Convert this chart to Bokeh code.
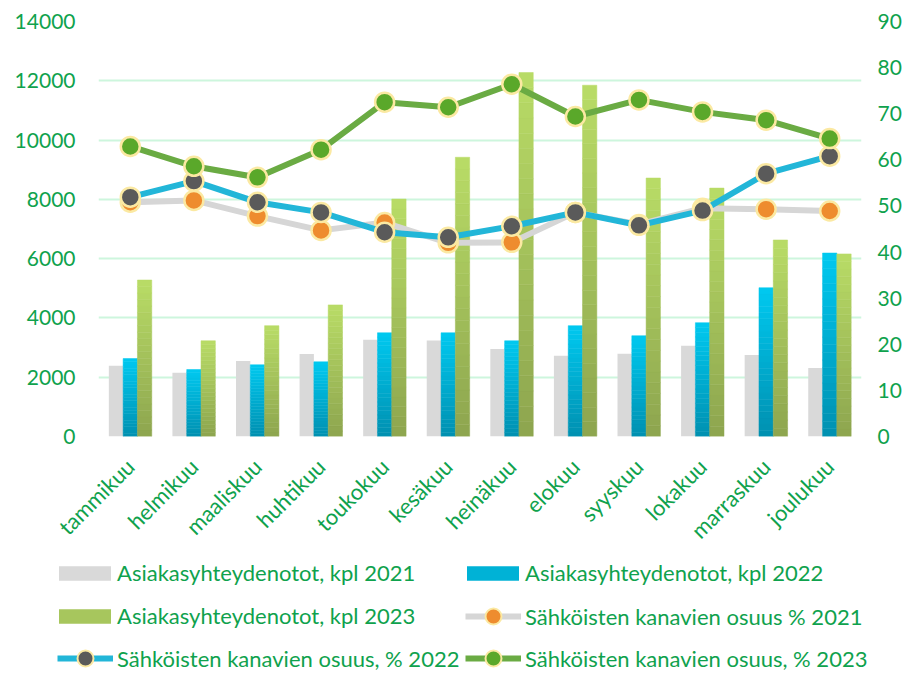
import numpy as np
from bokeh.plotting import figure
from bokeh.layouts import column
from bokeh.models import (Range1d, LinearAxis, FixedTicker, FactorRange, Legend,
                          LegendItem, ColumnDataSource)
from bokeh.transform import dodge
from bokeh.embed import file_html
from bokeh.resources import INLINE

# ---------------- data ----------------
months = ["tammikuu", "helmikuu", "maaliskuu", "huhtikuu", "toukokuu", "kesäkuu",
          "heinäkuu", "elokuu", "syyskuu", "lokakuu", "marraskuu", "joulukuu"]
contacts_2021 = [2390, 2150, 2550, 2780, 3260, 3240, 2950, 2720, 2790, 3060, 2750, 2310]
contacts_2022 = [2630, 2260, 2420, 2520, 3500, 3500, 3230, 3740, 3400, 3840, 5020, 6190]
contacts_2023 = [5280, 3230, 3740, 4440, 8010, 9420, 12280, 11850, 8720, 8380, 6630, 6160]
share_2021 = [50.8, 51.2, 47.8, 44.7, 46.4, 42.0, 42.1, 48.6, 46.0, 49.5, 49.3, 48.9]
share_2022 = [51.9, 55.4, 50.8, 48.6, 44.3, 43.2, 45.6, 48.6, 45.8, 49.0, 57.0, 60.8]
share_2023 = [62.9, 58.6, 56.2, 62.2, 72.5, 71.4, 76.4, 69.4, 73.0, 70.4, 68.6, 64.6]
left_ticks = [0, 2000, 4000, 6000, 8000, 10000, 12000, 14000]
right_ticks = [0, 10, 20, 30, 40, 50, 60, 70, 80, 90]
labels = ["Asiakasyhteydenotot, kpl 2021", "Asiakasyhteydenotot, kpl 2022",
          "Asiakasyhteydenotot, kpl 2023", "Sähköisten kanavien osuus % 2021",
          "Sähköisten kanavien osuus, % 2022", "Sähköisten kanavien osuus, % 2023"]

# ---------------- style ----------------
GREEN_TXT = "#0FA24D"
FONT = "Lato"
GRID = "#CDF6DD"
GRAY_BAR = "#D9D9D9"
BLUE_BOT, BLUE_TOP = "#0090B0", "#00C9F0"
GRN_BOT, GRN_TOP = "#8DA54F", "#B9DC66"
L21, M21 = "#D6D6D6", "#EE8C2E"
L22, M22 = "#22B6D8", "#5A5A5A"
L23, M23 = "#6AAB43", "#5AA82A"
MK_LINE = "#FBE9A2"

W = 904
p = figure(x_range=FactorRange(*months), y_range=Range1d(0, 14000),
           width=W, height=556, output_backend="svg", toolbar_location=None,
           min_border_left=98, min_border_right=36, min_border_top=21,
           min_border_bottom=119)
p.extra_y_ranges = {"pct": Range1d(0, 90)}
p.outline_line_color = None
p.background_fill_color = "white"
p.border_fill_color = "white"

# axes
p.yaxis.ticker = FixedTicker(ticks=left_ticks)
p.xaxis.major_label_orientation = np.pi / 4
for ax in (p.xaxis[0], p.yaxis[0]):
    ax.axis_line_color = None
    ax.major_tick_line_color = None
    ax.minor_tick_line_color = None
    ax.major_label_text_color = GREEN_TXT
    ax.major_label_text_font = FONT
p.yaxis.major_label_text_font_size = "21px"
p.yaxis.major_label_standoff = 17
p.xaxis.major_label_text_font_size = "22px"
p.xaxis.major_label_standoff = 20

rax = LinearAxis(y_range_name="pct", ticker=FixedTicker(ticks=right_ticks),
                 axis_line_color=None, major_tick_line_color=None,
                 minor_tick_line_color=None, major_label_text_color=GREEN_TXT,
                 major_label_text_font=FONT, major_label_text_font_size="21px",
                 major_label_standoff=10)
p.add_layout(rax, "right")

p.xgrid.grid_line_color = None
p.ygrid.grid_line_color = GRID
p.ygrid.grid_line_width = 2
p.ygrid.ticker = FixedTicker(ticks=left_ticks)


def hex2rgb(h):
    h = h.lstrip("#")
    return np.array([int(h[i:i + 2], 16) for i in (0, 2, 4)], float)


def mix(c0, c1, t):
    c = hex2rgb(c0) * (1 - t) + hex2rgb(c1) * t
    return "#%02x%02x%02x" % tuple(int(round(v)) for v in c)


BW = 0.225


def gradient_bars(values, offset, c_bottom, c_top, n=24):
    vals = np.array(values, float)
    for k in range(n):
        t = (k + 0.5) / n
        col = mix(c_bottom, c_top, t)
        s = ColumnDataSource(dict(x=months, bottom=vals * k / n, top=vals * (k + 1) / n))
        p.vbar(x=dodge("x", offset, range=p.x_range), bottom="bottom", top="top",
               width=BW, source=s, fill_color=col, line_color=col, line_width=0.5)


src = ColumnDataSource(dict(x=months, c21=contacts_2021, s21=share_2021,
                            s22=share_2022, s23=share_2023))
p.vbar(x=dodge("x", -BW, range=p.x_range), top="c21", width=BW, source=src,
       fill_color=GRAY_BAR, line_color=None)
gradient_bars(contacts_2022, 0.0, BLUE_BOT, BLUE_TOP)
gradient_bars(contacts_2023, BW, GRN_BOT, GRN_TOP)


def line_series(col, lc, mc):
    p.line(x="x", y=col, source=src, y_range_name="pct", line_color=lc,
           line_width=6, line_join="round")
    p.scatter(x="x", y=col, source=src, y_range_name="pct", size=19,
              fill_color=mc, line_color=MK_LINE, line_width=2.5)


line_series("s21", L21, M21)
line_series("s22", L22, M22)
line_series("s23", L23, M23)

# ---------------- legend panel ----------------
LH = 116
lf = figure(width=W, height=LH, output_backend="svg", toolbar_location=None,
            x_range=Range1d(0, 1), y_range=Range1d(0, 1), min_border=0,
            x_axis_location=None, y_axis_location=None)
lf.frame_align = False
lf.grid.visible = False
lf.outline_line_color = None
lf.background_fill_color = "white"
lf.border_fill_color = "white"

NAN = [np.nan]


def bar_key(color):
    return [lf.vbar(x=NAN, top=NAN, width=0.1, fill_color=color, line_color=None)]


def line_key(lc, mc):
    l = lf.line(x=NAN, y=NAN, line_color=lc, line_width=6)
    s = lf.scatter(x=NAN, y=NAN, fill_color=mc, line_color=MK_LINE, line_width=2)
    return [l, s]


keys = [bar_key(GRAY_BAR), bar_key(mix(BLUE_BOT, BLUE_TOP, 0.6)),
        bar_key(mix(GRN_BOT, GRN_TOP, 0.6)), line_key(L21, M21),
        line_key(L22, M22), line_key(L23, M23)]
is_bar = [True, True, True, False, False, False]
col_x = [52, 460, 52, 460, 52, 460]
row_c = [17, 17, 60, 60, 102, 102]
TEXT_H = 26

for i in range(6):
    if is_bar[i]:
        gw, gh, so, x0 = 65, 18, 0, col_x[i]
    else:
        gw, gh, so, x0 = 56, 40, 4, col_x[i] + 5
    h = max(gh, TEXT_H)
    vy = int(round(LH - (row_c[i] + h / 2)))
    leg = Legend(items=[LegendItem(label=labels[i], renderers=keys[i])],
                 location=(x0, vy), background_fill_alpha=0, border_line_color=None,
                 padding=0, margin=0, spacing=0, glyph_width=gw, glyph_height=gh,
                 label_standoff=so, label_text_font=FONT, label_text_font_size="22px",
                 label_text_color=GREEN_TXT, label_height=TEXT_H)
    lf.add_layout(leg, "center")

layout = column(p, lf, spacing=0)
open("out.html", "w").write(file_html(layout, INLINE))
